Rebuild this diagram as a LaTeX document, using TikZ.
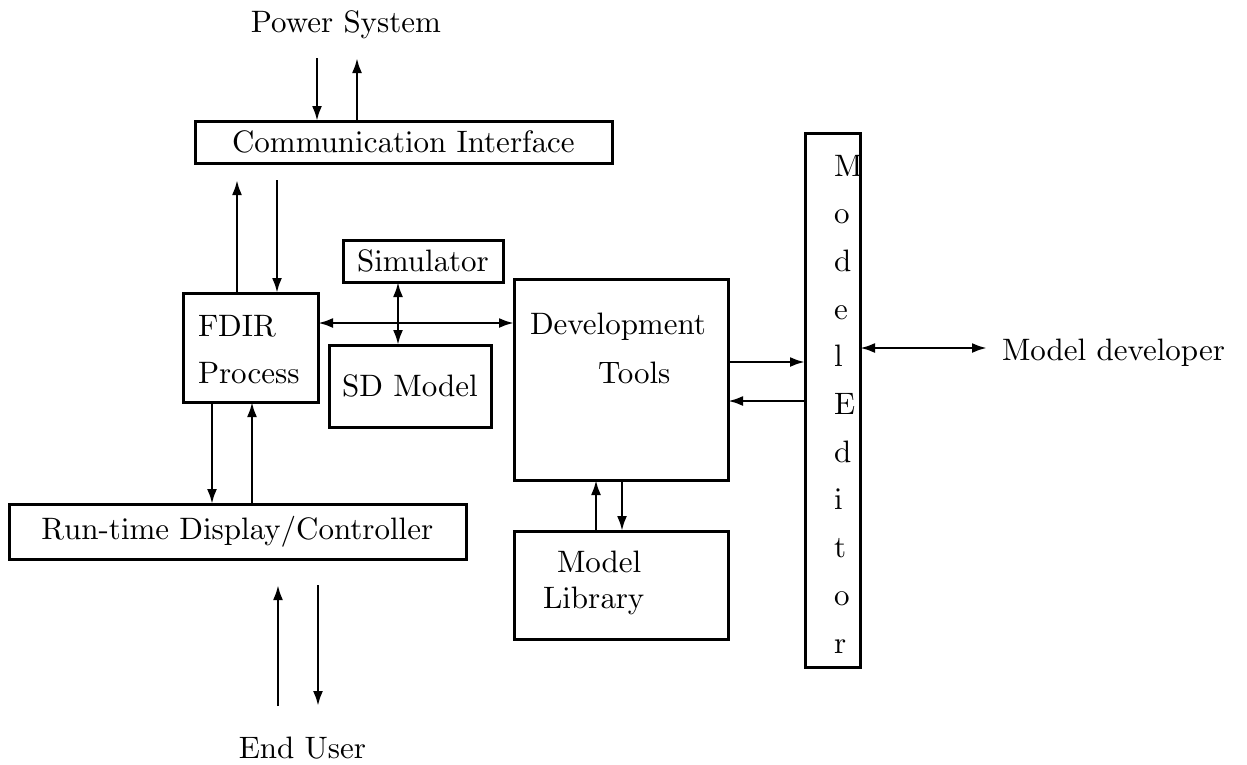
\documentclass[tikz,border=0pt]{standalone}
\usetikzlibrary{arrows.meta}
\font\diagfont=cmr10 at 31pt
\begin{document}
\begin{tikzpicture}[x=1pt,y=-1pt,
  every node/.style={font=\diagfont, inner sep=0pt, outer sep=0pt},
  box/.style={draw, line width=3pt, rectangle},
  lbl/.style={anchor=base west},
  arr/.style={line width=2.6pt, -{Latex[length=15pt,width=10pt]}},
  dbl/.style={line width=2.6pt, {Latex[length=15pt,width=10pt]}-{Latex[length=15pt,width=10pt]}}]
\useasboundingbox (0,0) rectangle (1247,764);
% boxes
\node[box, minimum width=417pt, minimum height=42pt] (ci) at (403.5,142) {Communication Interface};
\node[box, minimum width=135pt, minimum height=109pt] (fdir) at (250.5,347.5) {};
\node[box, minimum width=160pt, minimum height=42pt] (sim) at (423,261) {Simulator};
\node[box, minimum width=162pt, minimum height=82pt] (sd) at (410,386) {SD Model};
\node[box, minimum width=214pt, minimum height=201pt] (dev) at (621,379.5) {};
\node[box, minimum width=214pt, minimum height=108pt] (lib) at (621,585) {};
\node[box, minimum width=55pt, minimum height=534pt] (me) at (832.5,400) {};
\node[box, minimum width=457pt, minimum height=55pt] (rtd) at (237.5,531.5) {Run-time Display/Controller};
% texts
\node[lbl] (fdir1) at (198,336) {FDIR};
\node[lbl] (fdir2) at (198,383) {Process};
\node[lbl] (dev1) at (530,334) {Development};
\node[lbl] (dev2) at (598,383) {Tools};
\node[lbl] (lib1) at (557,572) {Model};
\node[lbl] (lib2) at (543,608) {Library};
\foreach \l [count=\i] in {M,o,d,e,l,E,d,i,t,o,r}
  \node[lbl] (mel\i) at (834,{176+47.7*(\i-1)}) {\l};
\node[anchor=base] (ps) at (346,32) {Power System};
\node[anchor=base] (eu) at (302.5,758) {End User};
\node[lbl] (mdev) at (1002,360) {Model developer};
% free ends
\coordinate (psd) at (317,58);
\coordinate (psu) at (357,58);
\coordinate (cu) at (237,180);
\coordinate (cd) at (277,180);
\coordinate (h1) at (0,323);
\coordinate (v1) at (398,0);
\coordinate (fd) at (212,0);
\coordinate (fu) at (252,0);
\coordinate (mr) at (0,362);
\coordinate (ml) at (0,401);
\coordinate (lu) at (596,0);
\coordinate (ld) at (622,0);
\coordinate (md) at (987,348);
\coordinate (eua) at (278,706);
\coordinate (eub) at (278,585);
\coordinate (euc) at (318,585);
\coordinate (eud) at (318,706);
% connectors
\draw[arr] (psd) -- (psd |- ci.north);
\draw[arr] (psu |- ci.north) -- (psu);
\draw[arr] (cu |- fdir.north) -- (cu);
\draw[arr] (cd) -- (cd |- fdir.north);
\draw[dbl] (fdir.east |- h1) -- (dev.west |- h1);
\draw[dbl] (sim.south -| v1) -- (sd.north -| v1);
\draw[arr] (fdir.south -| fd) -- (rtd.north -| fd);
\draw[arr] (rtd.north -| fu) -- (fdir.south -| fu);
\draw[arr] (dev.east |- mr) -- (me.west |- mr);
\draw[arr] (me.west |- ml) -- (dev.east |- ml);
\draw[arr] (lib.north -| lu) -- (dev.south -| lu);
\draw[arr] (dev.south -| ld) -- (lib.north -| ld);
\draw[dbl] (me.east |- md) -- (md);
\draw[arr] (eua) -- (eub);
\draw[arr] (euc) -- (eud);
\end{tikzpicture}
\end{document}
